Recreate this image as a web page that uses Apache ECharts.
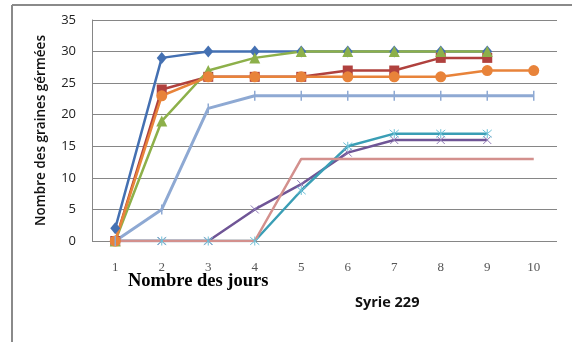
<!DOCTYPE html>
<html>
<head>
<meta charset="utf-8">
<script src="https://cdn.jsdelivr.net/npm/echarts@6/dist/echarts.min.js"></script>
<style>
  html, body { margin: 0; padding: 0; background: #fff; }
  #chart { width: 572px; height: 342px; }
</style>
</head>
<body>
<div id="chart"></div>
<script>
// Days after sowing
const days = ['1', '2', '3', '4', '5', '6', '7', '8', '9', '10'];

// Germinated seeds per day, one array per line
const seriesBlue   = [2, 29, 30, 30, 30, 30, 30, 30, 30];
const seriesRed    = [0, 24, 26, 26, 26, 27, 27, 29, 29];
const seriesGreen  = [0, 19, 27, 29, 30, 30, 30, 30, 30];
const seriesPurple = [0, 0, 0, 5, 9, 14, 16, 16, 16];
const seriesTeal   = [0, 0, 0, 0, 8, 15, 17, 17, 17];
const seriesOrange = [0, 23, 26, 26, 26, 26, 26, 26, 27, 27];
const seriesLight  = [0, 5, 21, 23, 23, 23, 23, 23, 23, 23];
const seriesPink   = [0, 0, 0, 0, 13, 13, 13, 13, 13, 13];

const yTicks = { min: 0, max: 35, interval: 5 };

const crossPath = 'path://M0,0L10,10M10,0L0,10';
const starPath = 'path://M0,0L10,10M10,0L0,10M5,-1L5,11';

function lineSeries(data, color, symbol, size, opts) {
  return Object.assign({
    type: 'line',
    data: data,
    symbol: symbol,
    symbolSize: size,
    showSymbol: symbol !== 'none',
    lineStyle: { color: color, width: 2.5 },
    itemStyle: { color: color },
    emphasis: { disabled: true },
    animation: false
  }, opts || {});
}

function strokeMarker(color, width) {
  return { color: 'rgba(0,0,0,0)', borderColor: color, borderWidth: width };
}

const chart = echarts.init(document.getElementById('chart'), null, { renderer: 'canvas' });

chart.setOption({
  backgroundColor: '#fff',
  animation: false,
  grid: { left: 92, right: 15, top: 20, bottom: 101, containLabel: false },
  xAxis: {
    type: 'category',
    data: days,
    boundaryGap: true,
    axisLine: { show: false },
    axisTick: { show: false },
    axisLabel: { margin: 20, color: '#555', fontFamily: 'Liberation Serif', fontSize: 13 }
  },
  yAxis: {
    type: 'value',
    min: yTicks.min,
    max: yTicks.max,
    interval: yTicks.interval,
    name: 'Nombre des graines gérmées',
    nameLocation: 'middle',
    nameRotate: 90,
    nameGap: 44,
    nameTextStyle: { fontFamily: 'Open Sans', fontSize: 13.5, fontWeight: 600, color: '#111' },
    axisLine: { show: true, lineStyle: { color: '#868686', width: 1 } },
    axisTick: { show: false },
    axisLabel: { margin: 16, color: '#222', fontFamily: 'Open Sans', fontSize: 13 },
    splitLine: { show: true, lineStyle: { color: '#868686', width: 1 } }
  },
  series: [
    lineSeries(seriesBlue, '#4470B2', 'diamond', [10, 12]),
    lineSeries(seriesRed, '#B0413E', 'rect', 10),
    lineSeries(seriesGreen, '#8DB04A', 'triangle', 11),
    lineSeries(seriesPurple, '#6F5596', crossPath, 8, { itemStyle: strokeMarker('#8E7AB5', 1) }),
    lineSeries(seriesTeal, '#3A9EB5', starPath, 9, { itemStyle: strokeMarker('#6EC0D6', 1) }),
    lineSeries(seriesOrange, '#E8833A', 'circle', 11),
    lineSeries(seriesLight, '#8EA9D3', 'rect', [1.5, 10], {
      lineStyle: { color: '#8EA9D3', width: 3 },
      itemStyle: { color: '#8EA9D3' }
    }),
    lineSeries(seriesPink, '#D3908D', 'none', 0, { lineStyle: { color: '#D3908D', width: 2.5 } })
  ],
  graphic: [
    { type: 'line', shape: { x1: 12, y1: 5, x2: 572, y2: 5 }, style: { stroke: '#8a8a8a', lineWidth: 2 }, silent: true },
    { type: 'line', shape: { x1: 12, y1: 5, x2: 12, y2: 342 }, style: { stroke: '#8a8a8a', lineWidth: 2 }, silent: true },
    {
      type: 'text', left: 128, top: 272,
      style: { text: 'Nombre des jours', font: 'bold 18.5px "Liberation Serif"', fill: '#000' }
    },
    {
      type: 'text', left: 355, top: 295,
      style: { text: 'Syrie 229', font: 'bold 14.5px "Open Sans"', fill: '#111' }
    }
  ]
});
</script>
</body>
</html>
